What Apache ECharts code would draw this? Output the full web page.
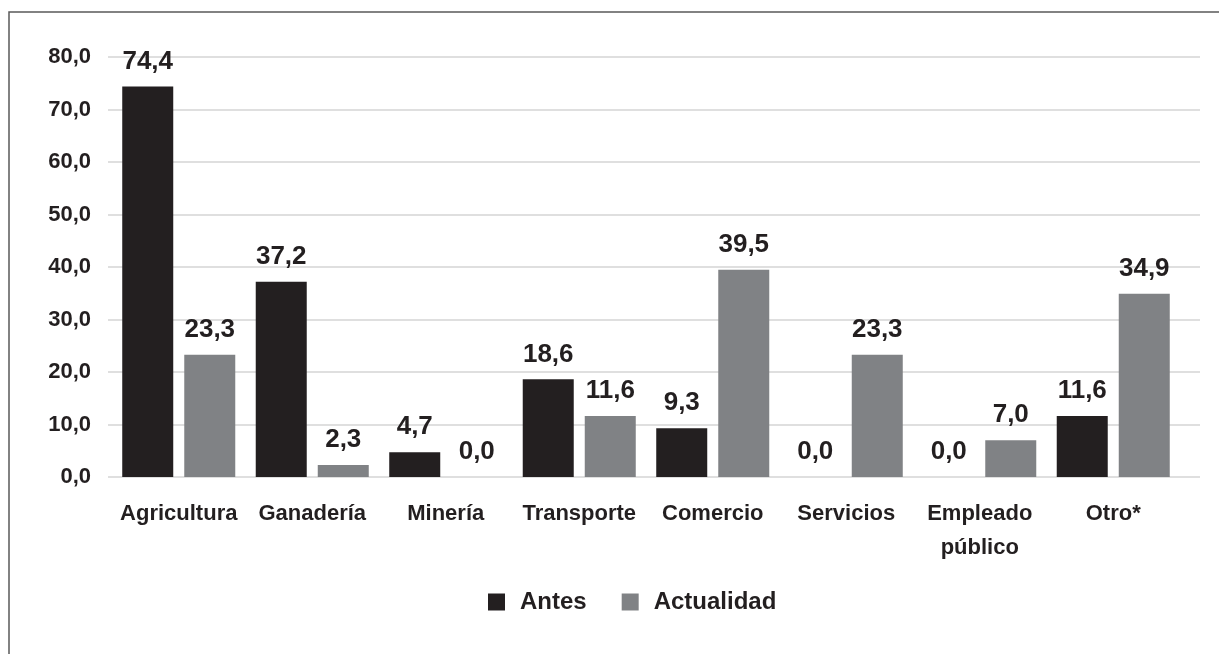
<!DOCTYPE html>
<html>
<head>
<meta charset="utf-8">
<script src="https://cdn.jsdelivr.net/npm/echarts@6/dist/echarts.min.js"></script>
<style>
html,body{margin:0;padding:0;background:#fff;}
#chart{width:1219px;height:654px;}
</style>
</head>
<body>
<div id="chart"></div>
<script>
const categories = ['Agricultura', 'Ganadería', 'Minería', 'Transporte', 'Comercio', 'Servicios', 'Empleado\npúblico', 'Otro*'];
const antes = [74.4, 37.2, 4.7, 18.6, 9.3, 0.0, 0.0, 11.6];
const actualidad = [23.3, 2.3, 0.0, 11.6, 39.5, 23.3, 7.0, 34.9];
const seriesNames = ['Antes', 'Actualidad'];
const yMin = 0, yMax = 80, yStep = 10;

const FONT = '"Liberation Sans", Arial, sans-serif';
const TXT = '#231f20';
const fmt = v => Number(v).toFixed(1).replace('.', ',');

const chart = echarts.init(document.getElementById('chart'), null, {renderer: 'canvas'});
const labelCfg = {
  show: true, position: 'top', distance: 12,
  formatter: p => fmt(p.value),
  fontFamily: FONT, fontWeight: 'bold', fontSize: 26, color: TXT
};
chart.setOption({
  animation: false,
  backgroundColor: '#fff',
  graphic: [{
    type: 'rect', silent: true,
    shape: {x: 9, y: 12, width: 1230, height: 660},
    style: {fill: 'none', stroke: '#5a5a5a', lineWidth: 1.5}
  }],
  legend: {
    data: seriesNames,
    left: 483, top: 585,
    icon: 'rect', itemWidth: 17, itemHeight: 17, itemGap: 35,
    textStyle: {fontFamily: FONT, fontWeight: 'bold', fontSize: 24, color: TXT, padding: [0, 0, 0, 10]}
  },
  grid: [
    {left: 108, right: 19, top: 57, bottom: 177},
    {left: 112, right: 39, top: 57, bottom: 177}
  ],
  xAxis: [
    {gridIndex: 0, type: 'value', show: false, min: 0, max: 1},
    {
      gridIndex: 1, type: 'category', data: categories,
      axisLine: {show: false}, axisTick: {show: false},
      axisLabel: {fontFamily: FONT, fontWeight: 'bold', fontSize: 22, color: TXT, margin: 20, lineHeight: 34, interval: 0}
    }
  ],
  yAxis: [
    {
      gridIndex: 0, type: 'value', min: yMin, max: yMax, interval: yStep,
      axisLine: {show: false}, axisTick: {show: false},
      splitLine: {lineStyle: {color: '#d4d4d4', width: 1.5}},
      axisLabel: {fontFamily: FONT, fontWeight: 'bold', fontSize: 22, color: TXT, margin: 17, formatter: v => fmt(v)}
    },
    {gridIndex: 1, type: 'value', min: yMin, max: yMax, interval: yStep, show: false, splitLine: {show: false}}
  ],
  series: [
    {
      name: seriesNames[0], type: 'bar', xAxisIndex: 1, yAxisIndex: 1,
      data: antes, barWidth: 51, barGap: '21.6%',
      itemStyle: {color: '#231f20'}, label: labelCfg
    },
    {
      name: seriesNames[1], type: 'bar', xAxisIndex: 1, yAxisIndex: 1,
      data: actualidad, barWidth: 51, barGap: '21.6%',
      itemStyle: {color: '#808285'}, label: labelCfg
    }
  ]
});
</script>
</body>
</html>
